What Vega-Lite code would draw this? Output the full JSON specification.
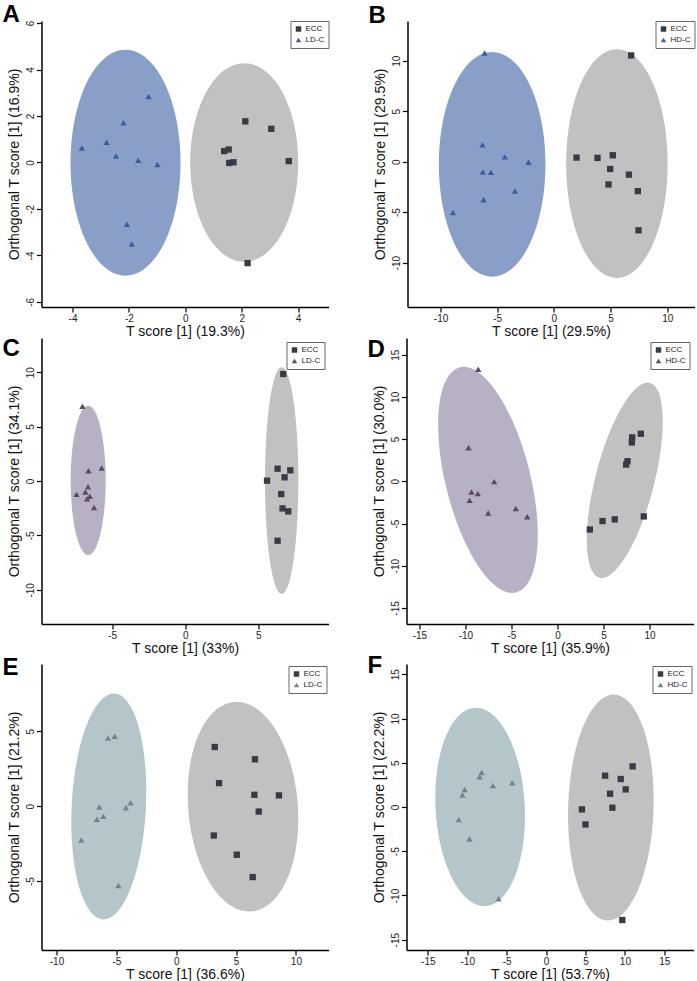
{
  "$schema": "https://vega.github.io/schema/vega-lite/v6.json",
  "background": "white",
  "padding": {"left": 2.5, "top": 3, "right": 0, "bottom": 0},
  "datasets": {
    "points": [
      {"panel": "A", "group": "LD-C", "t": -3.67, "o": 0.62},
      {"panel": "A", "group": "LD-C", "t": -2.79, "o": 0.87},
      {"panel": "A", "group": "LD-C", "t": -2.19, "o": 1.71},
      {"panel": "A", "group": "LD-C", "t": -1.30, "o": 2.84},
      {"panel": "A", "group": "LD-C", "t": -2.46, "o": 0.28},
      {"panel": "A", "group": "LD-C", "t": -1.67, "o": 0.10},
      {"panel": "A", "group": "LD-C", "t": -0.99, "o": -0.09},
      {"panel": "A", "group": "LD-C", "t": -2.07, "o": -2.66},
      {"panel": "A", "group": "LD-C", "t": -1.90, "o": -3.51},
      {"panel": "A", "group": "ECC", "t": 2.13, "o": 1.77},
      {"panel": "A", "group": "ECC", "t": 3.05, "o": 1.45},
      {"panel": "A", "group": "ECC", "t": 1.38, "o": 0.49},
      {"panel": "A", "group": "ECC", "t": 1.54, "o": 0.56},
      {"panel": "A", "group": "ECC", "t": 1.56, "o": -0.02},
      {"panel": "A", "group": "ECC", "t": 1.71, "o": 0.01},
      {"panel": "A", "group": "ECC", "t": 3.67, "o": 0.06},
      {"panel": "A", "group": "ECC", "t": 2.21, "o": -4.33},
      {"panel": "B", "group": "HD-C", "t": -6.12, "o": 10.75},
      {"panel": "B", "group": "HD-C", "t": -6.30, "o": 1.66},
      {"panel": "B", "group": "HD-C", "t": -4.33, "o": 0.47},
      {"panel": "B", "group": "HD-C", "t": -2.24, "o": -0.07},
      {"panel": "B", "group": "HD-C", "t": -6.27, "o": -1.03},
      {"panel": "B", "group": "HD-C", "t": -5.56, "o": -1.06},
      {"panel": "B", "group": "HD-C", "t": -3.44, "o": -2.92},
      {"panel": "B", "group": "HD-C", "t": -6.21, "o": -3.78},
      {"panel": "B", "group": "HD-C", "t": -8.91, "o": -5.04},
      {"panel": "B", "group": "ECC", "t": 6.82, "o": 10.52},
      {"panel": "B", "group": "ECC", "t": 2.00, "o": 0.40},
      {"panel": "B", "group": "ECC", "t": 3.85, "o": 0.37},
      {"panel": "B", "group": "ECC", "t": 5.20, "o": 0.63},
      {"panel": "B", "group": "ECC", "t": 4.97, "o": -0.73},
      {"panel": "B", "group": "ECC", "t": 6.62, "o": -1.29},
      {"panel": "B", "group": "ECC", "t": 4.82, "o": -2.26},
      {"panel": "B", "group": "ECC", "t": 7.41, "o": -2.92},
      {"panel": "B", "group": "ECC", "t": 7.47, "o": -6.80},
      {"panel": "C", "group": "LD-C", "t": -7.02, "o": 6.86},
      {"panel": "C", "group": "LD-C", "t": -6.61, "o": 0.95},
      {"panel": "C", "group": "LD-C", "t": -5.71, "o": 1.19},
      {"panel": "C", "group": "LD-C", "t": -6.64, "o": -0.52},
      {"panel": "C", "group": "LD-C", "t": -7.43, "o": -1.23},
      {"panel": "C", "group": "LD-C", "t": -6.82, "o": -1.01},
      {"panel": "C", "group": "LD-C", "t": -6.52, "o": -1.41},
      {"panel": "C", "group": "LD-C", "t": -6.71, "o": -1.63},
      {"panel": "C", "group": "LD-C", "t": -6.23, "o": -2.43},
      {"panel": "C", "group": "ECC", "t": 6.70, "o": 9.83},
      {"panel": "C", "group": "ECC", "t": 6.31, "o": 1.13},
      {"panel": "C", "group": "ECC", "t": 7.18, "o": 0.98},
      {"panel": "C", "group": "ECC", "t": 6.79, "o": 0.34},
      {"panel": "C", "group": "ECC", "t": 5.59, "o": 0.03},
      {"panel": "C", "group": "ECC", "t": 6.56, "o": -1.20},
      {"panel": "C", "group": "ECC", "t": 6.65, "o": -2.52},
      {"panel": "C", "group": "ECC", "t": 7.04, "o": -2.79},
      {"panel": "C", "group": "ECC", "t": 6.31, "o": -5.49},
      {"panel": "D", "group": "HD-C", "t": -8.61, "o": 13.28},
      {"panel": "D", "group": "HD-C", "t": -9.66, "o": 3.97},
      {"panel": "D", "group": "HD-C", "t": -6.87, "o": -0.04},
      {"panel": "D", "group": "HD-C", "t": -9.34, "o": -1.26},
      {"panel": "D", "group": "HD-C", "t": -8.65, "o": -1.46},
      {"panel": "D", "group": "HD-C", "t": -9.55, "o": -2.26},
      {"panel": "D", "group": "HD-C", "t": -7.53, "o": -3.76},
      {"panel": "D", "group": "HD-C", "t": -4.53, "o": -3.21},
      {"panel": "D", "group": "HD-C", "t": -3.29, "o": -4.20},
      {"panel": "D", "group": "ECC", "t": 9.05, "o": 5.63},
      {"panel": "D", "group": "ECC", "t": 8.11, "o": 5.20},
      {"panel": "D", "group": "ECC", "t": 8.07, "o": 4.60},
      {"panel": "D", "group": "ECC", "t": 7.60, "o": 2.38},
      {"panel": "D", "group": "ECC", "t": 7.46, "o": 1.99},
      {"panel": "D", "group": "ECC", "t": 4.89, "o": -4.71},
      {"panel": "D", "group": "ECC", "t": 6.22, "o": -4.51},
      {"panel": "D", "group": "ECC", "t": 9.37, "o": -4.16},
      {"panel": "D", "group": "ECC", "t": 3.51, "o": -5.71},
      {"panel": "E", "group": "LD-C", "t": -5.70, "o": 4.55},
      {"panel": "E", "group": "LD-C", "t": -5.14, "o": 4.67},
      {"panel": "E", "group": "LD-C", "t": -6.42, "o": -0.05},
      {"panel": "E", "group": "LD-C", "t": -3.81, "o": 0.22},
      {"panel": "E", "group": "LD-C", "t": -4.20, "o": -0.11},
      {"panel": "E", "group": "LD-C", "t": -6.08, "o": -0.67},
      {"panel": "E", "group": "LD-C", "t": -6.62, "o": -0.87},
      {"panel": "E", "group": "LD-C", "t": -7.92, "o": -2.26},
      {"panel": "E", "group": "LD-C", "t": -4.83, "o": -5.29},
      {"panel": "E", "group": "ECC", "t": 3.22, "o": 3.95},
      {"panel": "E", "group": "ECC", "t": 6.58, "o": 3.13},
      {"panel": "E", "group": "ECC", "t": 3.58, "o": 1.54},
      {"panel": "E", "group": "ECC", "t": 6.53, "o": 0.76},
      {"panel": "E", "group": "ECC", "t": 8.58, "o": 0.72},
      {"panel": "E", "group": "ECC", "t": 6.89, "o": -0.36},
      {"panel": "E", "group": "ECC", "t": 3.14, "o": -1.96},
      {"panel": "E", "group": "ECC", "t": 5.06, "o": -3.24},
      {"panel": "E", "group": "ECC", "t": 6.39, "o": -4.73},
      {"panel": "F", "group": "HD-C", "t": -8.17, "o": 3.91},
      {"panel": "F", "group": "HD-C", "t": -8.42, "o": 3.42},
      {"panel": "F", "group": "HD-C", "t": -4.29, "o": 2.75},
      {"panel": "F", "group": "HD-C", "t": -6.74, "o": 2.44},
      {"panel": "F", "group": "HD-C", "t": -10.32, "o": 1.99},
      {"panel": "F", "group": "HD-C", "t": -10.61, "o": 1.36},
      {"panel": "F", "group": "HD-C", "t": -11.07, "o": -1.40},
      {"panel": "F", "group": "HD-C", "t": -9.72, "o": -3.62},
      {"panel": "F", "group": "HD-C", "t": -6.02, "o": -10.36},
      {"panel": "F", "group": "ECC", "t": 10.98, "o": 4.59},
      {"panel": "F", "group": "ECC", "t": 7.49, "o": 3.54},
      {"panel": "F", "group": "ECC", "t": 9.47, "o": 3.16},
      {"panel": "F", "group": "ECC", "t": 10.10, "o": 1.99},
      {"panel": "F", "group": "ECC", "t": 8.12, "o": 1.50},
      {"panel": "F", "group": "ECC", "t": 4.55, "o": -0.27},
      {"panel": "F", "group": "ECC", "t": 8.41, "o": -0.08},
      {"panel": "F", "group": "ECC", "t": 5.00, "o": -1.97},
      {"panel": "F", "group": "ECC", "t": 9.67, "o": -12.77}
    ],
    "ellipses": [
      {"panel": "A", "group": "ECC", "t": 2.09, "o": 0.0},
      {"panel": "A", "group": "LD-C", "t": -2.12, "o": -0.01},
      {"panel": "B", "group": "ECC", "t": 5.56, "o": -0.2},
      {"panel": "B", "group": "HD-C", "t": -5.45, "o": -0.27},
      {"panel": "C", "group": "ECC", "t": 6.59, "o": 0.03},
      {"panel": "C", "group": "LD-C", "t": -6.63, "o": 0.06},
      {"panel": "D", "group": "ECC", "t": 7.31, "o": 0.12},
      {"panel": "D", "group": "HD-C", "t": -7.55, "o": 0.17},
      {"panel": "E", "group": "ECC", "t": 5.58, "o": -0.03},
      {"panel": "E", "group": "LD-C", "t": -5.63, "o": -0.02},
      {"panel": "F", "group": "ECC", "t": 8.22, "o": -0.05},
      {"panel": "F", "group": "HD-C", "t": -8.36, "o": 0.01}
    ]
  },
  "vconcat": [
    {
      "hconcat": [
        {
          "width": 287, "height": 286,
          "title": {"text": "A", "offset": -7},
          "encoding": {
            "x": {"field": "t", "type": "quantitative", "scale": {"domain": [-5.1, 5.08], "nice": false, "zero": false}, "axis": {"title": "T score [1] (19.3%)", "values": [-4, -2, 0, 2, 4]}},
            "y": {"field": "o", "type": "quantitative", "scale": {"domain": [-6.22, 6.09], "nice": false, "zero": false}, "axis": {"title": "Orthogonal T score [1] (16.9%)", "values": [-6, -4, -2, 0, 2, 4, 6]}}
          },
          "layer": [
            {"data": {"name": "ellipses"}, "transform": [{"filter": "datum.panel == 'A' && datum.group == 'ECC'"}],
             "mark": {"type": "point", "filled": true, "opacity": 1, "size": 4, "color": "#c1c1c1", "shape": "M -54 0 A 54 99.3 0 1 0 54 0 A 54 99.3 0 1 0 -54 0 Z"}},
            {"data": {"name": "ellipses"}, "transform": [{"filter": "datum.panel == 'A' && datum.group != 'ECC'"}],
             "mark": {"type": "point", "filled": true, "opacity": 1, "size": 4, "color": "#8a9fc8", "shape": "M -55 0 A 55 113 0 1 0 55 0 A 55 113 0 1 0 -55 0 Z"}},
            {"data": {"name": "points"}, "transform": [{"filter": "datum.panel == 'A'"}],
             "mark": {"type": "point", "filled": true, "opacity": 1, "size": 40},
             "encoding": {
               "color": {"field": "group", "type": "nominal", "scale": {"domain": ["ECC", "LD-C"], "range": ["#363b46", "#3c5d9d"]}, "legend": {"title": null, "offset": 0}},
               "shape": {"field": "group", "type": "nominal", "scale": {"domain": ["ECC", "LD-C"], "range": ["square", "triangle-up"]}, "legend": {"title": null, "offset": 0}}
             }}
          ]
        },
        {
          "width": 287, "height": 286,
          "title": {"text": "B", "offset": -7},
          "encoding": {
            "x": {"field": "t", "type": "quantitative", "scale": {"domain": [-12.92, 12.41], "nice": false, "zero": false}, "axis": {"title": "T score [1] (29.5%)", "values": [-10, -5, 0, 5, 10]}},
            "y": {"field": "o", "type": "quantitative", "scale": {"domain": [-14.4, 13.93], "nice": false, "zero": false}, "axis": {"title": "Orthogonal T score [1] (29.5%)", "values": [-10, -5, 0, 5, 10]}}
          },
          "layer": [
            {"data": {"name": "ellipses"}, "transform": [{"filter": "datum.panel == 'B' && datum.group == 'ECC'"}],
             "mark": {"type": "point", "filled": true, "opacity": 1, "size": 4, "color": "#c1c1c1", "shape": "M -50.7 0 A 50.7 114.3 0 1 0 50.7 0 A 50.7 114.3 0 1 0 -50.7 0 Z"}},
            {"data": {"name": "ellipses"}, "transform": [{"filter": "datum.panel == 'B' && datum.group != 'ECC'"}],
             "mark": {"type": "point", "filled": true, "opacity": 1, "size": 4, "color": "#8a9fc8", "shape": "M -53.3 0 A 53.3 112.3 0 1 0 53.3 0 A 53.3 112.3 0 1 0 -53.3 0 Z"}},
            {"data": {"name": "points"}, "transform": [{"filter": "datum.panel == 'B'"}],
             "mark": {"type": "point", "filled": true, "opacity": 1, "size": 40},
             "encoding": {
               "color": {"field": "group", "type": "nominal", "scale": {"domain": ["ECC", "HD-C"], "range": ["#363b46", "#3c5d9d"]}, "legend": {"title": null, "offset": 0}},
               "shape": {"field": "group", "type": "nominal", "scale": {"domain": ["ECC", "HD-C"], "range": ["square", "triangle-up"]}, "legend": {"title": null, "offset": 0}}
             }}
          ]
        }
      ],
      "spacing": 39,
      "resolve": {"scale": {"color": "independent", "shape": "independent"}}
    },
    {
      "hconcat": [
        {
          "width": 287, "height": 286,
          "title": {"text": "C", "offset": -23},
          "encoding": {
            "x": {"field": "t", "type": "quantitative", "scale": {"domain": [-9.82, 9.79], "nice": false, "zero": false}, "axis": {"title": "T score [1] (33%)", "values": [-5, 0, 5]}},
            "y": {"field": "o", "type": "quantitative", "scale": {"domain": [-13.14, 13.14], "nice": false, "zero": false}, "axis": {"title": "Orthogonal T score [1] (34.1%)", "values": [-10, -5, 0, 5, 10]}}
          },
          "layer": [
            {"data": {"name": "ellipses"}, "transform": [{"filter": "datum.panel == 'C' && datum.group == 'ECC'"}],
             "mark": {"type": "point", "filled": true, "opacity": 1, "size": 4, "color": "#c1c1c1", "shape": "M -16.7 0 A 16.7 113.3 0 1 0 16.7 0 A 16.7 113.3 0 1 0 -16.7 0 Z"}},
            {"data": {"name": "ellipses"}, "transform": [{"filter": "datum.panel == 'C' && datum.group != 'ECC'"}],
             "mark": {"type": "point", "filled": true, "opacity": 1, "size": 4, "color": "#b8b1c5", "shape": "M -17.5 0 A 17.5 74.7 0 1 0 17.5 0 A 17.5 74.7 0 1 0 -17.5 0 Z"}},
            {"data": {"name": "points"}, "transform": [{"filter": "datum.panel == 'C'"}],
             "mark": {"type": "point", "filled": true, "opacity": 1, "size": 40},
             "encoding": {
               "color": {"field": "group", "type": "nominal", "scale": {"domain": ["ECC", "LD-C"], "range": ["#363b46", "#5c4a62"]}, "legend": {"title": null, "offset": 4}},
               "shape": {"field": "group", "type": "nominal", "scale": {"domain": ["ECC", "LD-C"], "range": ["square", "triangle-up"]}, "legend": {"title": null, "offset": 4}}
             }}
          ]
        },
        {
          "width": 287, "height": 286,
          "title": {"text": "D", "offset": -24},
          "encoding": {
            "x": {"field": "t", "type": "quantitative", "scale": {"domain": [-16.4, 14.77], "nice": false, "zero": false}, "axis": {"title": "T score [1] (35.9%)", "values": [-15, -10, -5, 0, 5, 10]}},
            "y": {"field": "o", "type": "quantitative", "scale": {"domain": [-16.9, 16.97], "nice": false, "zero": false}, "axis": {"title": "Orthogonal T score [1] (30.0%)", "values": [-15, -10, -5, 0, 5, 10, 15]}}
          },
          "layer": [
            {"data": {"name": "ellipses"}, "transform": [{"filter": "datum.panel == 'D' && datum.group == 'ECC'"}],
             "mark": {"type": "point", "filled": true, "opacity": 1, "size": 4, "angle": 14.5, "color": "#c1c1c1", "shape": "M -29.4 0 A 29.4 100.6 0 1 0 29.4 0 A 29.4 100.6 0 1 0 -29.4 0 Z"}},
            {"data": {"name": "ellipses"}, "transform": [{"filter": "datum.panel == 'D' && datum.group != 'ECC'"}],
             "mark": {"type": "point", "filled": true, "opacity": 1, "size": 4, "angle": -14, "color": "#b8b1c5", "shape": "M -42.4 0 A 42.4 116 0 1 0 42.4 0 A 42.4 116 0 1 0 -42.4 0 Z"}},
            {"data": {"name": "points"}, "transform": [{"filter": "datum.panel == 'D'"}],
             "mark": {"type": "point", "filled": true, "opacity": 1, "size": 40},
             "encoding": {
               "color": {"field": "group", "type": "nominal", "scale": {"domain": ["ECC", "HD-C"], "range": ["#363b46", "#5c4a62"]}, "legend": {"title": null, "offset": 4}},
               "shape": {"field": "group", "type": "nominal", "scale": {"domain": ["ECC", "HD-C"], "range": ["square", "triangle-up"]}, "legend": {"title": null, "offset": 4}}
             }}
          ]
        }
      ],
      "spacing": 39,
      "resolve": {"scale": {"color": "independent", "shape": "independent"}}
    },
    {
      "hconcat": [
        {
          "width": 287, "height": 286,
          "title": {"text": "E", "offset": -16},
          "encoding": {
            "x": {"field": "t", "type": "quantitative", "scale": {"domain": [-11.25, 12.72], "nice": false, "zero": false}, "axis": {"title": "T score [1] (36.6%)", "values": [-10, -5, 0, 5, 10]}},
            "y": {"field": "o", "type": "quantitative", "scale": {"domain": [-9.6, 9.49], "nice": false, "zero": false}, "axis": {"title": "Orthogonal T score [1] (21.2%)", "values": [-5, 0, 5]}}
          },
          "layer": [
            {"data": {"name": "ellipses"}, "transform": [{"filter": "datum.panel == 'E' && datum.group == 'ECC'"}],
             "mark": {"type": "point", "filled": true, "opacity": 1, "size": 4, "angle": -4.8, "color": "#c1c1c1", "shape": "M -54.8 0 A 54.8 105.1 0 1 0 54.8 0 A 54.8 105.1 0 1 0 -54.8 0 Z"}},
            {"data": {"name": "ellipses"}, "transform": [{"filter": "datum.panel == 'E' && datum.group != 'ECC'"}],
             "mark": {"type": "point", "filled": true, "opacity": 1, "size": 4, "angle": 2.9, "color": "#b5c6ca", "shape": "M -37.1 0 A 37.1 113.1 0 1 0 37.1 0 A 37.1 113.1 0 1 0 -37.1 0 Z"}},
            {"data": {"name": "points"}, "transform": [{"filter": "datum.panel == 'E'"}],
             "mark": {"type": "point", "filled": true, "opacity": 1, "size": 40},
             "encoding": {
               "color": {"field": "group", "type": "nominal", "scale": {"domain": ["ECC", "LD-C"], "range": ["#363b46", "#6d878b"]}, "legend": {"title": null, "offset": 2}},
               "shape": {"field": "group", "type": "nominal", "scale": {"domain": ["ECC", "LD-C"], "range": ["square", "triangle-up"]}, "legend": {"title": null, "offset": 2}}
             }}
          ]
        },
        {
          "width": 287, "height": 286,
          "title": {"text": "F", "offset": -14},
          "encoding": {
            "x": {"field": "t", "type": "quantitative", "scale": {"domain": [-17.7, 18.7], "nice": false, "zero": false}, "axis": {"title": "T score [1] (53.7%)", "values": [-15, -10, -5, 0, 5, 10, 15]}},
            "y": {"field": "o", "type": "quantitative", "scale": {"domain": [-16.16, 16.16], "nice": false, "zero": false}, "axis": {"title": "Orthogonal T score [1] (22.2%)", "values": [-15, -10, -5, 0, 5, 10, 15]}}
          },
          "layer": [
            {"data": {"name": "ellipses"}, "transform": [{"filter": "datum.panel == 'F' && datum.group == 'ECC'"}],
             "mark": {"type": "point", "filled": true, "opacity": 1, "size": 4, "angle": 1.7, "color": "#c1c1c1", "shape": "M -42.7 0 A 42.7 113 0 1 0 42.7 0 A 42.7 113 0 1 0 -42.7 0 Z"}},
            {"data": {"name": "ellipses"}, "transform": [{"filter": "datum.panel == 'F' && datum.group != 'ECC'"}],
             "mark": {"type": "point", "filled": true, "opacity": 1, "size": 4, "angle": -3, "color": "#b5c6ca", "shape": "M -44.6 0 A 44.6 99.3 0 1 0 44.6 0 A 44.6 99.3 0 1 0 -44.6 0 Z"}},
            {"data": {"name": "points"}, "transform": [{"filter": "datum.panel == 'F'"}],
             "mark": {"type": "point", "filled": true, "opacity": 1, "size": 40},
             "encoding": {
               "color": {"field": "group", "type": "nominal", "scale": {"domain": ["ECC", "HD-C"], "range": ["#363b46", "#6d878b"]}, "legend": {"title": null, "offset": 2}},
               "shape": {"field": "group", "type": "nominal", "scale": {"domain": ["ECC", "HD-C"], "range": ["square", "triangle-up"]}, "legend": {"title": null, "offset": 2}}
             }}
          ]
        }
      ],
      "spacing": 39,
      "resolve": {"scale": {"color": "independent", "shape": "independent"}}
    }
  ],
  "spacing": -1,
  "resolve": {"scale": {"color": "independent", "shape": "independent"}},
  "config": {
    "view": {"stroke": null},
    "font": "Liberation Sans",
    "locale": {"number": {"decimal": ".", "thousands": ",", "grouping": [3], "currency": ["$", ""], "minus": "-"}},
    "axis": {"grid": false, "domainColor": "#000", "domainWidth": 1.5, "tickColor": "#000", "tickWidth": 1.2, "tickSize": 5, "labelFont": "Liberation Sans", "labelFontSize": 10, "labelColor": "#222", "labelPadding": 1, "titleFont": "Liberation Sans", "titleFontSize": 14, "titleFontWeight": "normal", "titleColor": "#111", "titlePadding": 1, "labelFlush": false, "labelOverlap": false},
    "axisY": {"labelAngle": -90, "labelAlign": "center", "labelBaseline": "alphabetic", "labelPadding": 3, "titlePadding": 4},
    "legend": {"orient": "top-right", "padding": 4, "strokeColor": "#666", "fillColor": "#fff", "symbolSize": 30, "labelFontSize": 8, "labelFont": "Liberation Sans", "labelColor": "#222", "rowPadding": 3, "labelOffset": 3, "symbolStrokeWidth": 0, "cornerRadius": 0},
    "title": {"anchor": "start", "frame": "bounds", "fontSize": 24, "fontWeight": "bold", "color": "#000", "baseline": "alphabetic", "dx": -5}
  }
}
